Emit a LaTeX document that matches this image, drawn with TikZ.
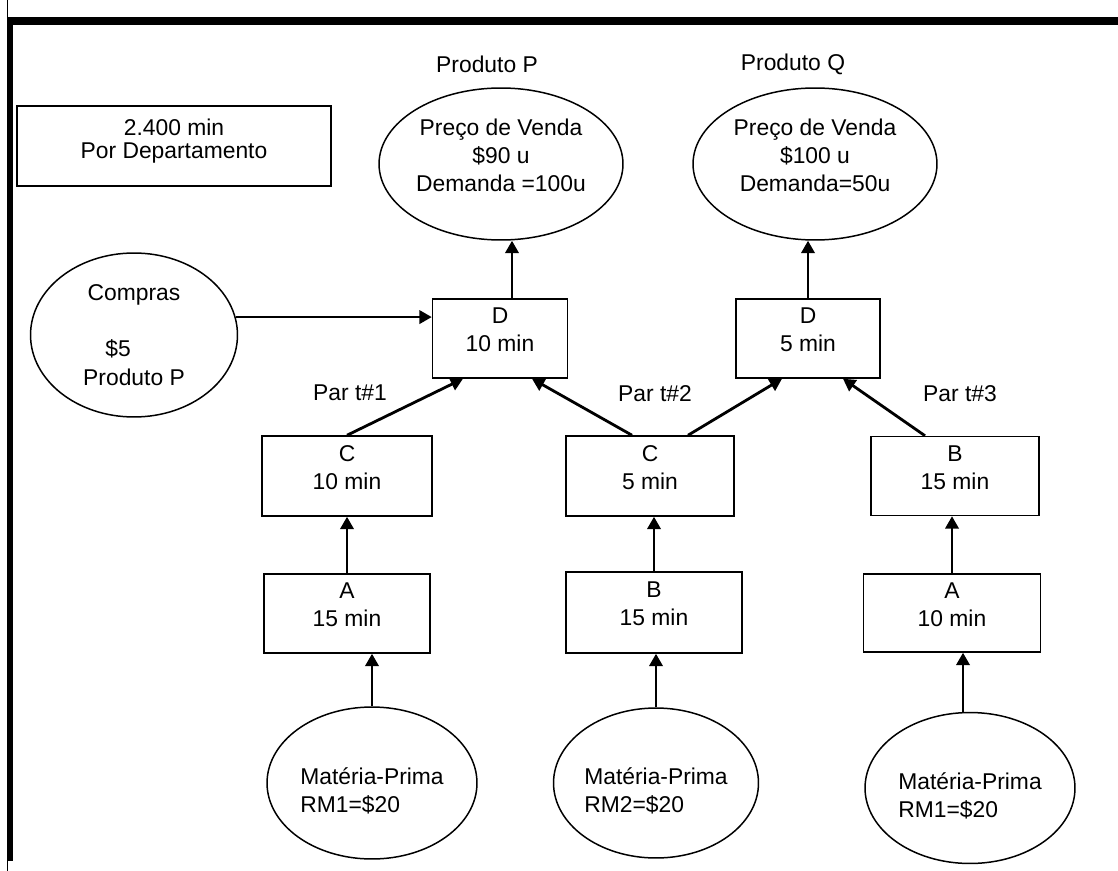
\documentclass[tikz,border=0pt]{standalone}
\usepackage{fontspec}
\setmainfont{Liberation Sans}
\usepackage{tikz}
\usetikzlibrary{positioning,calc}
\usetikzlibrary{arrows.meta,shapes.geometric}
\newcommand{\padlow}[1]{\rule[-#1]{0pt}{#1}}
\newcommand{\padhigh}[1]{\rule{0pt}{#1}}
\tikzset{
  box/.style={rectangle,draw=black,line width=0.85pt,align=center},
  oval/.style={ellipse,draw=black,line width=0.85pt,inner sep=0pt,align=center},
  arr/.style={-{Triangle[length=7pt,width=7.5pt]},line width=1.6pt},
}
\tikzset{txt/.style={align=center}, bar/.style={fill=black}}

\begin{document}
\begin{tikzpicture}[x=0.02cm,y=-0.02cm,font=\fontsize{13}{16}\selectfont]
\useasboundingbox (0,0) rectangle (1118,871);
% frame
\draw[line width=0.8pt] (7.5,0) -- (7.5,871);
\fill[bar] (7,17) rectangle (13,861);
\fill[bar] (7,17) rectangle (1118,25);
% note
\node[box,minimum width=6.28cm,minimum height=1.6cm,font=\fontsize{13}{13}\selectfont] (tempo) at (174,146) {2.400 min\\Por Departamento\padlow{8pt}};
% products
\node[txt] (lp) at (487,64) {Produto P};
\node[txt] (lq) at (793,64) {Produto Q};
\node[oval,minimum width=4.88cm,minimum height=3.04cm] (pp) at (501,164) {Preço de Venda\\\$90 u\\Demanda =100u\padlow{10pt}};
\node[oval,minimum width=4.88cm,minimum height=3.04cm] (pq) at (815,164) {Preço de Venda\\\$100 u\\Demanda=50u\padlow{10pt}};
\node[oval,minimum width=4.14cm,minimum height=3.28cm] (cp) at (134,335) {Compras\\[16pt]\makebox[2.5em][l]{\$5}\\Produto P};
% departments
\node[box,minimum width=2.7cm,minimum height=1.58cm] (d1) at (500,338.5) {D\\10 min\padlow{10pt}};
\node[box,minimum width=2.88cm,minimum height=1.58cm] (d2) at (808,338.5) {D\\5 min\padlow{10pt}};
\node[box,minimum width=3.4cm,minimum height=1.6cm] (c1) at (347,476) {C\\10 min\padlow{10pt}};
\node[box,minimum width=3.36cm,minimum height=1.6cm] (c2) at (650,476) {C\\5 min\padlow{10pt}};
\node[box,minimum width=3.36cm,minimum height=1.58cm] (b1) at (955,476) {B\\15 min\padlow{10pt}};
\node[box,minimum width=3.32cm,minimum height=1.58cm] (a1) at (347,613.5) {A\\15 min\padlow{10pt}};
\node[box,minimum width=3.52cm,minimum height=1.62cm] (b2) at (654,612.5) {B\\15 min\padlow{10pt}};
\node[box,minimum width=3.54cm,minimum height=1.56cm] (a2) at (952,613) {A\\10 min\padlow{10pt}};
\node[txt] (t1) at (350,393) {Par t\#1};
\node[txt] (t2) at (655,394) {Par t\#2};
\node[txt] (t3) at (960,394) {Par t\#3};
% raw material
\node[oval,align=left,minimum width=4.2cm,minimum height=3.04cm] (m1) at (372,783) {\padhigh{19pt}Matéria-Prima\\RM1=\$20};
\node[oval,align=left,minimum width=4.1cm,minimum height=3.0cm] (m2) at (656,783) {\padhigh{19pt}Matéria-Prima\\RM2=\$20};
\node[oval,align=left,minimum width=4.2cm,minimum height=3.02cm] (m3) at (970,788) {\padhigh{19pt}Matéria-Prima\\RM1=\$20};
% flows
\draw[arr] (m1.north) -- (m1.north |- a1.south);
\draw[arr] (m2.north) -- (m2.north |- b2.south);
\draw[arr] ([xshift=-0.14cm]m3.north) -- ([xshift=-0.14cm]m3.north |- a2.south);
\draw[arr] (a1.north) -- (c1.south);
\draw[arr] (b2.north) -- (b2.north |- c2.south);
\draw[arr] (a2.north) -- (a2.north |- b1.south);
\draw[arr] (c1.north) -- ([xshift=-0.74cm]d1.south);
\draw[arr] ([xshift=-0.36cm]c2.north) -- ([xshift=0.64cm]d1.south);
\draw[arr] ([xshift=0.76cm]c2.north) -- ([xshift=-0.52cm]d2.south);
\draw[arr] ([xshift=-0.6cm]b1.north) -- ([xshift=0.7cm]d2.south);
\draw[arr] (cp.10) -- (cp.10 -| d1.west);
\draw[arr] ([xshift=0.24cm]d1.north) -- ([xshift=0.24cm]d1.north |- pp.south);
\draw[arr] (d2.north) -- (d2.north |- pq.south);
\end{tikzpicture}
\end{document}
